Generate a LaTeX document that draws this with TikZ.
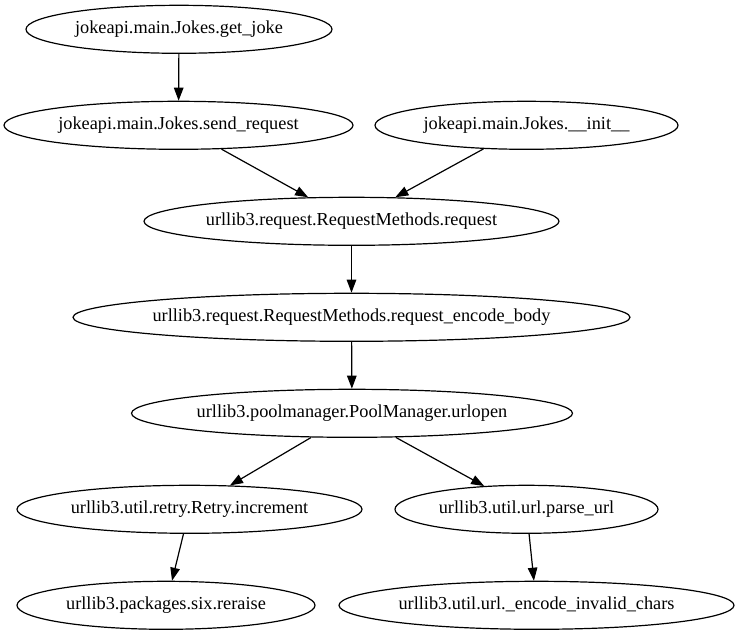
\documentclass[tikz,border=0pt]{standalone}
\usepackage{fontspec}
\setmainfont{Liberation Serif}
\usetikzlibrary{shapes.geometric,arrows.meta}
\tikzset{
  fn/.style={draw, ellipse, inner sep=0pt, minimum height=48pt, line width=1.2pt,
    font=\fontsize{18.3pt}{22pt}\selectfont},
  call/.style={line width=1.2pt, -{Triangle[length=13pt,width=9.5pt]}}
}
\newcommand{\lbl}[1]{\makebox[0pt]{\strut #1}}
\begin{document}
\begin{tikzpicture}[x=1pt,y=-1pt]
\useasboundingbox (0,0) rectangle (740,635);
\node[fn, minimum width=306pt] (getjoke) at (179,29.3) {\lbl{jokeapi.main.Jokes.get\_joke}};
\node[fn, minimum width=349pt] (sendreq) at (178.5,125.3) {\lbl{jokeapi.main.Jokes.send\_request}};
\node[fn, minimum width=303pt] (init) at (526.5,125.3) {\lbl{jokeapi.main.Jokes.\_\_init\_\_}};
\node[fn, minimum width=415pt] (request) at (351.5,221.3) {\lbl{urllib3.request.RequestMethods.request}};
\node[fn, minimum width=557pt] (encbody) at (351.5,317.3) {\lbl{urllib3.request.RequestMethods.request\_encode\_body}};
\node[fn, minimum width=441pt] (urlopen) at (352,413.3) {\lbl{urllib3.poolmanager.PoolManager.urlopen}};
\node[fn, minimum width=345pt] (incr) at (189.5,509.3) {\lbl{urllib3.util.retry.Retry.increment}};
\node[fn, minimum width=263pt] (parse) at (526.5,509.3) {\lbl{urllib3.util.url.parse\_url}};
\node[fn, minimum width=298pt] (reraise) at (166,605.3) {\lbl{urllib3.packages.six.reraise}};
\node[fn, minimum width=395pt] (encinv) at (536.5,605.3) {\lbl{urllib3.util.url.\_encode\_invalid\_chars}};
\draw[call] (getjoke) -- (sendreq);
\draw[call] (sendreq) -- (request);
\draw[call] (init) -- (request);
\draw[call] (request) -- (encbody);
\draw[call] (encbody) -- (urlopen);
\draw[call] (urlopen) -- (incr);
\draw[call] (urlopen) -- (parse);
\draw[call] (incr) -- (reraise);
\draw[call] (parse) -- (encinv);
\end{tikzpicture}
\end{document}
